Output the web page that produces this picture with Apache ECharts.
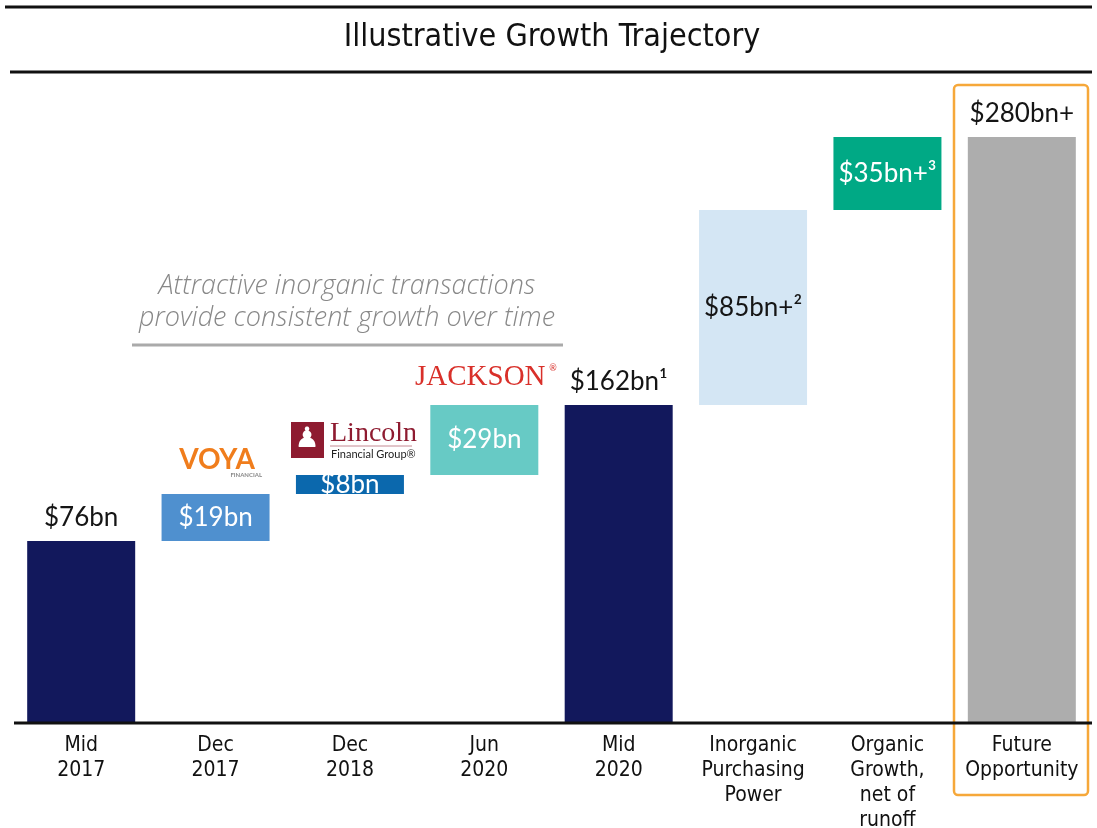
<!DOCTYPE html>
<html>
<head>
<meta charset="utf-8">
<script src="https://cdn.jsdelivr.net/npm/echarts@6/dist/echarts.min.js"></script>
<style>
  html, body { margin: 0; padding: 0; background: #fff; }
  #main { width: 1097px; height: 828px; }
</style>
</head>
<body>
<div id="main"></div>
<script>
// categories along the bottom
var categories = ["Mid\n2017", "Dec\n2017", "Dec\n2018", "Jun\n2020", "Mid\n2020",
  "Inorganic\nPurchasing\nPower", "Organic\nGrowth,\nnet of\nrunoff", "Future\nOpportunity"];
// printed figures on the bars
var labelTexts = ["$76bn", "$19bn", "$8bn", "$29bn", "$162bn\u00b9", "$85bn+\u00b2", "$35bn+\u00b3", "$280bn+"];
// bar extents as drawn (illustrative, not to scale) : floating base and visible height
var barBase = [0, 87, 109.4, 118.5, 0, 151.9, 245.1, 0];
var barSize = [87, 22.4, 9.1, 33.4, 151.9, 93.2, 34.9, 280];
var barColors = ["#12185c", "#4f90cf", "#0b68ad", "#67cac5", "#12185c", "#d4e6f4", "#00a985", "#adadad"];
var labelColors = ["#151515", "#fff", "#fff", "#fff", "#151515", "#151515", "#fff", "#151515"];
var isTotal = [true, false, false, false, true, false, false, true];

var sansFont = "Lato, 'Noto Sans', sans-serif";
var narrowFont = "'Liberation Sans Narrow', 'DejaVu Sans Condensed', sans-serif";

var myChart = echarts.init(document.getElementById("main"));

var valueData = [];
for (var i = 0; i < barSize.length; i++) {
  valueData.push({
    value: barSize[i],
    itemStyle: { color: barColors[i] },
    label: {
      position: isTotal[i] ? "top" : "inside",
      distance: 10,
      color: labelColors[i]
    }
  });
}

myChart.setOption({
  animation: false,
  grid: { left: 14, right: 8, top: 95.14, bottom: 105, outerBoundsMode: "none", containLabel: false },
  xAxis: {
    type: "category",
    data: categories,
    axisLine: { show: false },
    axisTick: { show: false },
    axisLabel: {
      interval: 0,
      margin: 10,
      fontFamily: narrowFont,
      fontSize: 21,
      lineHeight: 25,
      color: "#111"
    }
  },
  yAxis: {
    type: "value",
    min: 0,
    max: 300,
    show: false
  },
  series: [
    {
      name: "base",
      type: "bar",
      stack: "w",
      barWidth: 108,
      itemStyle: { color: "transparent" },
      data: barBase,
      silent: true
    },
    {
      name: "value",
      type: "bar",
      stack: "w",
      barWidth: 108,
      data: valueData,
      label: {
        show: true,
        fontFamily: sansFont,
        fontSize: 26,
        formatter: function (p) { return labelTexts[p.dataIndex]; }
      }
    }
  ],
  graphic: [
    // header rules and title
    { type: "line", shape: { x1: 5, y1: 7, x2: 1092, y2: 7 }, style: { stroke: "#111", lineWidth: 3 } },
    { type: "line", shape: { x1: 10, y1: 72, x2: 1092, y2: 72 }, style: { stroke: "#111", lineWidth: 3 } },
    { type: "text", x: 552, y: 38, style: { text: "Illustrative Growth Trajectory", font: "32px " + narrowFont, fill: "#111", align: "center", verticalAlign: "middle" } },
    // baseline
    { type: "line", shape: { x1: 14, y1: 723, x2: 1092, y2: 723 }, style: { stroke: "#111", lineWidth: 3 }, z: 10 },
    // highlight box
    { type: "rect", shape: { x: 954, y: 85, width: 134, height: 710, r: 4 }, style: { fill: "none", stroke: "#f6a83a", lineWidth: 2.5 } },
    // annotation
    { type: "text", x: 347, y: 286, style: { text: "Attractive inorganic transactions", font: "italic 300 27px 'Open Sans', sans-serif", fill: "#888", align: "center", verticalAlign: "middle" } },
    { type: "text", x: 347, y: 318, style: { text: "provide consistent growth over time", font: "italic 300 27px 'Open Sans', sans-serif", fill: "#888", align: "center", verticalAlign: "middle" } },
    { type: "line", shape: { x1: 132, y1: 345, x2: 563, y2: 345 }, style: { stroke: "#aaa", lineWidth: 3 } },
    // VOYA
    { type: "text", x: 217, y: 460, style: { text: "VOYA", font: "bold 28px " + sansFont, fill: "#f07d1c", align: "center", verticalAlign: "middle" } },
    { type: "text", x: 262, y: 475, style: { text: "FINANCIAL", font: "bold 6px " + sansFont, fill: "#888", align: "right", verticalAlign: "middle" } },
    // Lincoln
    { type: "rect", shape: { x: 291, y: 422, width: 33, height: 36 }, style: { fill: "#8e1b30" } },
    { type: "text", x: 307, y: 440, style: { text: "\u265F", font: "28px 'DejaVu Sans'", fill: "#fff", align: "center", verticalAlign: "middle" } },
    { type: "text", x: 330, y: 434, style: { text: "Lincoln", font: "28px 'Liberation Serif', serif", fill: "#8e1b30", align: "left", verticalAlign: "middle" } },
    { type: "line", shape: { x1: 330, y1: 446, x2: 412, y2: 446 }, style: { stroke: "#c48a93", lineWidth: 1 } },
    { type: "text", x: 331, y: 454, style: { text: "Financial Group\u00ae", font: "11px " + sansFont, fill: "#222", align: "left", verticalAlign: "middle" } },
    // Jackson
    { type: "text", x: 415, y: 377, style: { text: "JACKSON", font: "29px 'Liberation Serif', serif", fill: "#d9302a", align: "left", verticalAlign: "middle" } },
    { type: "text", x: 553, y: 368, style: { text: "\u00ae", font: "9px " + sansFont, fill: "#d9302a", align: "center", verticalAlign: "middle" } }
  ]
});
</script>
</body>
</html>
